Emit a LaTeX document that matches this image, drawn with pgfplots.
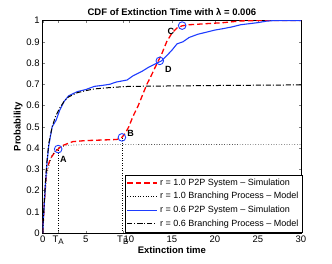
\documentclass[border=0pt]{standalone}
\usepackage{fontspec}
\setmainfont{Liberation Sans}
\usepackage{pgfplots}
\pgfplotsset{compat=1.18}
\definecolor{mblue}{RGB}{30,60,255}
\begin{document}
\begin{tikzpicture}[x=1pt,y=1pt]
\useasboundingbox (-42.7,-30) rectangle (289.3,233);
\begin{axis}[
  at={(0,0)}, anchor=south west,
  scale only axis, width=258.3pt, height=212.5pt,
  xmin=0, xmax=30, ymin=0, ymax=1,
  xtick={0,1.8,5,9.3,10,15,20,25,30},
  xticklabels={0,{T\raisebox{-0.5ex}{\footnotesize A}},5,{T\raisebox{-0.5ex}{\footnotesize B}},10,15,20,25,30},
  ytick={0,0.1,...,1},
  yticklabels={0,0.1,0.2,0.3,0.4,0.5,0.6,0.7,0.8,0.9,1},
  /pgf/number format/assume math mode=true,
  tick label style={font=\fontsize{9.5}{11}\selectfont},
  tick align=inside,
  major tick length=2.5pt,
  xticklabel style={yshift=1pt},
  yticklabel style={xshift=0.5pt},
  title={\textbf{CDF of Extinction Time with λ = 0.006}},
  title style={font=\fontsize{9.5}{11}\selectfont, yshift=-5pt},
  xlabel={\textbf{Extinction time}},
  ylabel={\textbf{Probability}},
  label style={font=\fontsize{9.5}{11}\selectfont},
  xlabel style={yshift=5pt},
  ylabel style={yshift=-3pt},
  legend style={at={(rel axis cs:1.006,0.005)}, anchor=south east, font=\fontsize{9}{10.5}\selectfont, draw=black, row sep=1.6pt, inner xsep=2pt, inner ysep=2pt},
  legend cell align=left,
  legend image post style={xscale=1.75},
]
\addplot[red, line width=1.3pt, dash pattern=on 5.5pt off 3pt] coordinates {
(0,0) (0.2,0.15) (0.46,0.3) (0.9,0.35) (1.4,0.38) (1.8,0.395) (2.2,0.41) (3.5,0.43) (5,0.435) (6.5,0.437) (8.6,0.44) (9.2,0.45) (9.6,0.47) (10,0.5) (10.5,0.55) (11.1,0.6) (11.6,0.65) (12.1,0.7) (12.6,0.74) (13.3,0.8) (13.8,0.84) (14.4,0.9) (15,0.94) (15.6,0.965) (16.2,0.975) (17,0.98) (19,0.985) (21,0.99) (23,0.998) (25,1) (30,1)};
\addlegendentry{r = 1.0 P2P System -- Simulation}
\addplot[black, dotted, line width=0.6pt] coordinates {
(0,0) (0.2,0.14) (0.5,0.28) (1,0.36) (1.5,0.39) (2,0.405) (3,0.413) (5,0.416) (30,0.417)};
\addlegendentry{r = 1.0 Branching Process -- Model}
\addplot[mblue, line width=1.1pt] coordinates {
(0,0) (0.1,0.08) (0.3,0.22) (0.5,0.33) (0.7,0.41) (1.1,0.5) (1.55,0.53) (2,0.58) (2.5,0.62) (3,0.645) (4,0.665) (5,0.675) (6,0.69) (7,0.695) (7.8,0.70) (8.5,0.71) (9.8,0.72) (10.5,0.74) (11.5,0.76) (12.3,0.78) (13.3,0.80) (13.8,0.81) (14.3,0.83) (15,0.86) (15.6,0.89) (16.3,0.9) (17,0.92) (18,0.935) (19,0.945) (20,0.955) (21,0.962) (22,0.97) (23,0.98) (24,0.985) (25,0.99) (26,0.997) (27,1) (30,1)};
\addlegendentry{r = 0.6 P2P System -- Simulation}
\addplot[black, line width=1.0pt, dash pattern=on 5pt off 2pt on 1pt off 2pt] coordinates {
(0,0) (0.1,0.09) (0.3,0.23) (0.5,0.34) (0.7,0.42) (1.1,0.5) (1.5,0.55) (2,0.59) (2.5,0.62) (3,0.64) (4,0.66) (5,0.67) (6,0.678) (8,0.685) (10,0.69) (15,0.692) (20,0.694) (30,0.697)};
\addlegendentry{r = 0.6 Branching Process -- Model}
\addplot[black, dotted, line width=0.5pt, forget plot] coordinates {(1.8,0) (1.8,0.395)};
\addplot[black, dotted, line width=0.5pt, forget plot] coordinates {(9.2,0) (9.2,0.45)};
\addplot[mblue, only marks, mark=o, mark size=3.8pt, line width=0.9pt, forget plot] coordinates {
(1.8,0.395) (9.2,0.45) (16.2,0.976) (13.6,0.81)};
\node[font=\bfseries\fontsize{9}{10}\selectfont] at (axis cs:2.4,0.345) {A};
\node[font=\bfseries\fontsize{9}{10}\selectfont] at (axis cs:10.2,0.47) {B};
\node[font=\bfseries\fontsize{9}{10}\selectfont] at (axis cs:14.9,0.95) {C};
\node[font=\bfseries\fontsize{9}{10}\selectfont] at (axis cs:14.6,0.77) {D};
\end{axis}
\end{tikzpicture}
\end{document}
